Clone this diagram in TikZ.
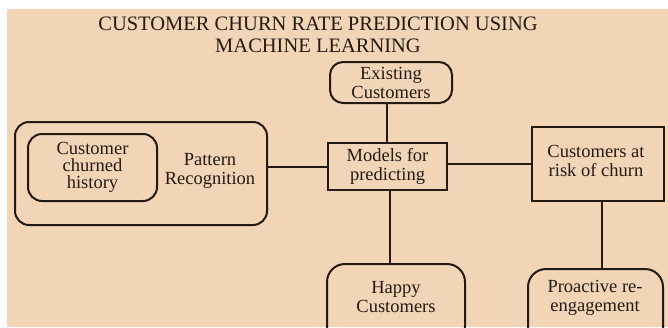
\documentclass[tikz,border=0pt]{standalone}
\usepackage{fontspec}
\setmainfont{Liberation Serif}
\definecolor{peach}{HTML}{F2D4B7}
\definecolor{ink}{HTML}{241A14}
\tikzset{
  lbl/.style={text=ink, font=\fontsize{18.5}{19}\selectfont, align=center, inner sep=0pt},
  rbox/.style={draw=ink, line width=2pt, rounded corners=14pt, inner sep=0pt},
  sbox/.style={draw=ink, line width=2pt, inner sep=0pt},
  link/.style={draw=ink, line width=2pt},
}
\begin{document}
\begin{tikzpicture}[x=1pt,y=-1pt]
\useasboundingbox (0,0) rectangle (668,327);
\fill[white] (0,0) rectangle (668,327);
\fill[peach] (7,9) rectangle (668,327);
\clip (7,9) rectangle (668,327);
% title
\node[text=ink, font=\fontsize{20.5}{22}\selectfont, align=center, inner sep=0pt] (title) at (318,35)
  {CUSTOMER CHURN RATE PREDICTION USING\\MACHINE LEARNING};
% pattern recognition group
\node[rbox, minimum width=252pt, minimum height=103pt] (pr) at (141,173.5) {};
\node[rbox, lbl, font=\fontsize{18.5}{17}\selectfont, minimum width=129pt, minimum height=67pt] (hist) at (92.5,167.5) {Customer\\churned\\history};
\node[lbl] (pat) at (210,171) {Pattern\\Recognition};
% models
\node[sbox, lbl, minimum width=119pt, minimum height=47pt] (models) at (387.5,166.5) {Models for\\predicting};
% existing
\node[rbox, lbl, minimum width=122pt, minimum height=41pt, rounded corners=13pt] (exist) at (391,82.5) {Existing\\Customers};
% risk
\node[sbox, minimum width=132pt, minimum height=74pt] (risk) at (598,164) {};
\node[lbl] (risktxt) at (596,161) {Customers at\\risk of churn};
% happy
\node[rbox, rounded corners=18pt, minimum width=138pt, minimum height=80pt] (happy) at (396,304) {};
\node[lbl] (happytxt) at (396,297) {Happy\\Customers};
% proactive
\node[rbox, rounded corners=18pt, minimum width=135pt, minimum height=80pt] (pro) at (595.5,309) {};
\node[lbl] (protxt) at (595,297.5) {Proactive re-\\engagement};
% connectors
\draw[link] ([xshift=-4pt]exist.south) -- ([xshift=-4pt]exist.south |- models.north);
\draw[link] (models.west -| pr.east) -- (models.west);
\draw[link] (risk.west -| models.east) -- (risk.west);
\draw[link] ([xshift=2pt]models.south) -- ([xshift=2pt]models.south |- happy.north);
\draw[link] ([xshift=4pt]risk.south) -- ([xshift=4pt]risk.south |- pro.north);
\end{tikzpicture}
\end{document}
